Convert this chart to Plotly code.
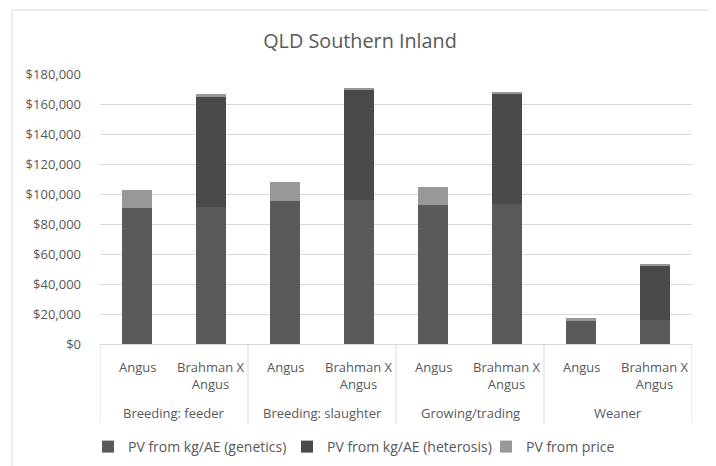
import plotly.graph_objects as go

groups = ["Breeding: feeder", "Breeding: feeder", "Breeding: slaughter", "Breeding: slaughter",
          "Growing/trading", "Growing/trading", "Weaner", "Weaner"]
breeds = ["Angus", "Brahman X<br>Angus"] * 4
group_names = ["Breeding: feeder", "Breeding: slaughter", "Growing/trading", "Weaner"]

genetics = [91000, 91300, 95300, 95800, 92400, 93300, 15600, 16200]
heterosis = [0, 73100, 0, 73500, 0, 73400, 0, 36300]
price = [11700, 2000, 12500, 1400, 12000, 1300, 2000, 400]

series_names = ["PV from kg/AE (genetics)", "PV from kg/AE (heterosis)", "PV from price"]
colors = ["#5a5a5a", "#4a4a4a", "#989898"]

FONT = "Open Sans"
TXT = "#595959"
GRID = "#d9d9d9"

keys = [g + " | " + b for g, b in zip(groups, breeds)]

fig = go.Figure()
for name, vals, col in zip(series_names, [genetics, heterosis, price], colors):
    fig.add_trace(go.Bar(x=keys, y=vals, name=name,
                         marker=dict(color=col, line=dict(width=0))))

# page body has an 8px margin: work in screen pixels and convert
OFF = 8
W, H = 716 - OFF, 466 - OFF
PX0, PX1, PY0, PY1 = 100, 692, 74, 344  # plot area in screen pixels
L, R, T, B = PX0 - OFF, W - (PX1 - OFF), PY0 - OFF, H - (PY1 - OFF)
pw, ph = PX1 - PX0, PY1 - PY0

def px_x(p):
    return (p - PX0) / pw

def px_y(p):
    return (PY1 - p) / ph

annotations = []
# inner category labels
for k, b in zip(keys, breeds):
    annotations.append(dict(x=k, xref="x", y=px_y(355.5), yref="paper", yanchor="top",
                            xanchor="center", text=b, showarrow=False, align="center",
                            font=dict(family=FONT, size=13, color=TXT)))
# outer group labels
for i, g in enumerate(group_names):
    annotations.append(dict(x=2 * i + 0.5, xref="x", y=px_y(413), yref="paper", yanchor="middle",
                            xanchor="center", text=g, showarrow=False,
                            font=dict(family=FONT, size=13, color=TXT)))

shapes = [dict(type="rect", xref="paper", yref="paper",
               x0=px_x(12), x1=px_x(712), y0=px_y(480), y1=px_y(10),
               line=dict(color=GRID, width=1), fillcolor="rgba(0,0,0,0)", layer="below")]
for i in range(len(group_names) + 1):
    shapes.append(dict(type="line", xref="x", yref="paper", x0=2 * i - 0.5, x1=2 * i - 0.5,
                       y0=0, y1=px_y(423), line=dict(color=GRID, width=1)))

fig.update_layout(
    barmode="stack",
    bargap=0.6,
    width=W, height=H,
    margin=dict(l=L, r=R, t=T, b=B, pad=0, autoexpand=False),
    paper_bgcolor="white", plot_bgcolor="white",
    font=dict(family=FONT, size=13, color=TXT),
    title=dict(text="QLD Southern Inland", x=(360 - OFF) / W, xref="container", xanchor="center",
               y=1 - (41 - OFF) / H, yref="container", yanchor="middle",
               font=dict(family=FONT, size=19.8, color=TXT)),
    legend=dict(orientation="h", x=px_x(88), xanchor="left", y=px_y(447), yanchor="middle",
                font=dict(family=FONT, size=14, color=TXT), traceorder="normal",
                itemwidth=30, entrywidth=154, entrywidthmode="pixels", itemclick=False),
    xaxis=dict(type="category", showline=True, linecolor=GRID, linewidth=1,
               showticklabels=False, ticks="", showgrid=False, automargin=False,
               range=[-0.5, 7.5]),
    yaxis=dict(range=[0, 180000], dtick=20000, tickprefix="$", tickformat=",d",
               showgrid=True, gridcolor=GRID, gridwidth=1, zeroline=False, automargin=False,
               ticks="", ticklabelstandoff=18, tickfont=dict(family=FONT, size=13, color=TXT)),
    shapes=shapes,
    annotations=annotations,
)

fig.write_html("out.html")
